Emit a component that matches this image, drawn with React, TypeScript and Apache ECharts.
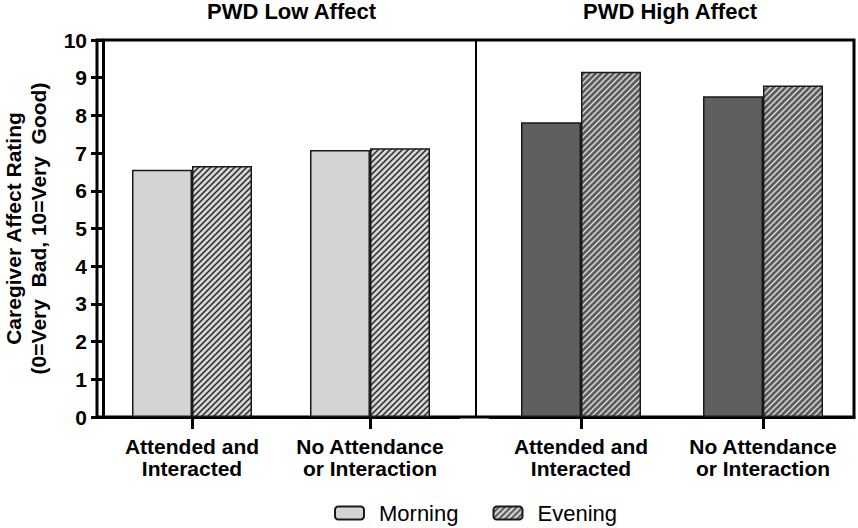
import React, { useEffect, useRef } from "react";
import * as echarts from "echarts";

const categories = ["Attended and\nInteracted", "No Attendance\nor Interaction"];
const panelTitles = ["PWD Low Affect", "PWD High Affect"];
const seriesNames = ["Morning", "Evening"];
const lowMorning = [6.56, 7.08];
const lowEvening = [6.66, 7.13];
const highMorning = [7.82, 8.51];
const highEvening = [9.16, 8.79];
const yTicks = { min: 0, max: 10, interval: 1 };

function makeHatch(bg: string, fg: string): HTMLCanvasElement {
  const s = 6;
  const c = document.createElement("canvas");
  c.width = s;
  c.height = s;
  const ctx = c.getContext("2d")!;
  ctx.fillStyle = bg;
  ctx.fillRect(0, 0, s, s);
  ctx.strokeStyle = fg;
  ctx.lineWidth = 1.5;
  ctx.beginPath();
  ctx.moveTo(-1, s + 1);
  ctx.lineTo(s + 1, -1);
  ctx.moveTo(-s / 2 - 1, s / 2 + 1);
  ctx.lineTo(s / 2 + 1, -s / 2 - 1);
  ctx.moveTo(s / 2 - 1, s * 1.5 + 1);
  ctx.lineTo(s * 1.5 + 1, s / 2 - 1);
  ctx.stroke();
  return c;
}

export default function App() {
  const ref = useRef<HTMLDivElement>(null);
  useEffect(() => {
    document.body.style.margin = "0";
    const chart = echarts.init(ref.current!, null, { renderer: "svg" });
    const lightHatch = { image: makeHatch("#d4d4d4", "#2a2a2a"), repeat: "repeat" };
    const darkHatch = { image: makeHatch("#5c5c5c", "#d8d8d8"), repeat: "repeat" };
    const font = "Liberation Sans, Arial, Helvetica, sans-serif";
    const border = { borderColor: "#1a1a1a", borderWidth: 1.5 };
    const xAxisBase = {
      type: "category",
      data: categories,
      boundaryGap: true,
      axisLine: { show: true, lineStyle: { color: "#000", width: 3 } },
      axisTick: { show: true, alignWithLabel: true, interval: 0, length: 12, lineStyle: { color: "#000", width: 3 } },
      axisLabel: { interval: 0, color: "#000", fontSize: 21, fontWeight: "bold", fontFamily: font, lineHeight: 22, margin: 18 },
      splitLine: { show: false },
    };
    const titleStyle = { fontSize: 22, fontWeight: "bold", color: "#000", fontFamily: font };
    const option: any = {
      animation: false,
      backgroundColor: "#fff",
      textStyle: { fontFamily: font },
      title: [
        { text: panelTitles[0], left: 286.5, top: -5, textAlign: "center", textStyle: titleStyle },
        { text: panelTitles[1], left: 665, top: -5, textAlign: "center", textStyle: titleStyle },
      ],
      legend: {
        data: seriesNames,
        top: 502,
        left: 334,
        padding: 0,
        itemWidth: 29,
        itemHeight: 13,
        itemGap: 34,
        textStyle: { fontSize: 22, color: "#000", fontFamily: font, padding: [0, 0, 0, 10] },
      },
      grid: [
        { left: 97, width: 362, top: 40, height: 377 },
        { left: 490, width: 364, top: 40, height: 377 },
        { left: 97, width: 757, top: 40, height: 377, show: true, borderColor: "#000", borderWidth: 3, backgroundColor: "transparent" },
        { left: 97, width: 379, top: 40, height: 377, show: true, borderColor: "#000", borderWidth: 2, backgroundColor: "transparent" },
      ],
      xAxis: [
        { ...xAxisBase, gridIndex: 0 },
        { ...xAxisBase, gridIndex: 1 },
        { type: "value", gridIndex: 2, show: false },
        { type: "value", gridIndex: 3, show: false },
      ],
      yAxis: [
        {
          type: "value",
          gridIndex: 0,
          ...yTicks,
          name: "Caregiver Affect Rating\n(0=Very  Bad, 10=Very  Good)",
          nameLocation: "middle",
          nameGap: 52,
          nameTextStyle: { fontSize: 21, fontWeight: "bold", color: "#000", fontFamily: font, lineHeight: 25 },
          axisLine: { show: true, lineStyle: { color: "#000", width: 3 } },
          axisTick: { show: true, length: 12, lineStyle: { color: "#000", width: 3 } },
          axisLabel: { color: "#000", fontSize: 21, fontWeight: "bold", fontFamily: font, margin: 16 },
          splitLine: { show: false },
        },
        { type: "value", gridIndex: 1, ...yTicks, show: false, splitLine: { show: false } },
        { type: "value", gridIndex: 2, show: false },
        { type: "value", gridIndex: 3, show: false },
      ],
      series: [
        { name: seriesNames[0], type: "bar", xAxisIndex: 0, yAxisIndex: 0, data: lowMorning, barWidth: 60, barGap: "0%", itemStyle: { color: "#d4d4d4", ...border } },
        { name: seriesNames[1], type: "bar", xAxisIndex: 0, yAxisIndex: 0, data: lowEvening, barWidth: 60, barGap: "0%", itemStyle: { color: lightHatch, ...border } },
        { name: seriesNames[0], type: "bar", xAxisIndex: 1, yAxisIndex: 1, data: highMorning, barWidth: 60, barGap: "0%", itemStyle: { color: "#5f5f5f", ...border } },
        { name: seriesNames[1], type: "bar", xAxisIndex: 1, yAxisIndex: 1, data: highEvening, barWidth: 60, barGap: "0%", itemStyle: { color: darkHatch, ...border } },
      ],
    };
    chart.setOption(option);
    return () => chart.dispose();
  }, []);
  return <div ref={ref} style={{ width: 858, height: 528 }} />;
}
